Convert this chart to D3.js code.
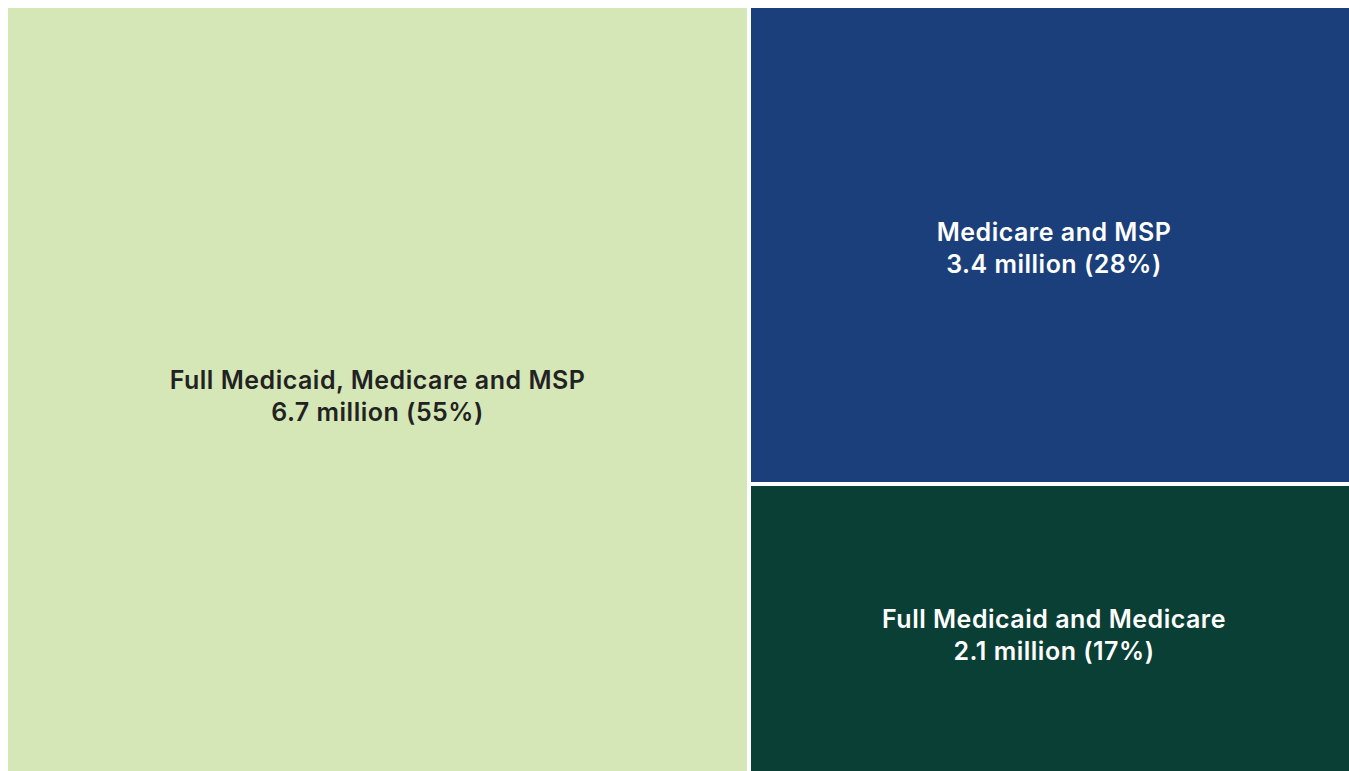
<!DOCTYPE html>
<html>
<head>
<meta charset="utf-8">
<script src="https://cdn.jsdelivr.net/npm/d3@7"></script>
<style>
  body { margin: 0; background: #fff; }
  svg { display: block; }
</style>
</head>
<body>
<div id="chart"></div>
<script>
// Data
const groups = ["Full Medicaid, Medicare and MSP", "Medicare and MSP", "Full Medicaid and Medicare"];
const millions = [6.7, 3.4, 2.1];
const shares = ["55%", "28%", "17%"];
const colors = ["#d5e6b7", "#1b3f7a", "#0a3f35"];
const textColors = ["#222222", "#ffffff", "#ffffff"];

const width = 1349;
const height = 771;

const svg = d3.select("#chart")
    .append("svg")
    .attr("width", width)
    .attr("height", height);

// Build hierarchy
const root = d3.hierarchy({
        children: groups.map((g, i) => ({ name: g, value: millions[i], i: i }))
    })
    .sum(d => d.value || 0);

// the treemap runs a little past the right and bottom edges
d3.treemap()
    .tile(d3.treemapBinary)
    .size([1349, 770])
    .paddingInner(4)
    .round(true)(root);

const cell = svg.selectAll("g.cell")
    .data(root.leaves())
    .join("g")
    .attr("class", "cell")
    .attr("transform", d => `translate(${d.x0 + 8}, ${d.y0 + 8})`);

cell.append("rect")
    .attr("width", d => d.x1 - d.x0)
    .attr("height", d => d.y1 - d.y0)
    .attr("fill", d => colors[d.data.i]);

const label = cell.append("text")
    .attr("text-anchor", "middle")
    .attr("font-family", "Inter, 'Open Sans', sans-serif")
    .attr("font-weight", 600)
    .attr("font-size", 25)
    .attr("letter-spacing", 0.5)
    .attr("fill", d => textColors[d.data.i]);

label.append("tspan")
    .attr("x", d => (d.x1 - d.x0) / 2)
    .attr("y", d => (d.y1 - d.y0) / 2 - 4)
    .text(d => d.data.name);

label.append("tspan")
    .attr("x", d => (d.x1 - d.x0) / 2)
    .attr("y", d => (d.y1 - d.y0) / 2 + 28)
    .text(d => `${d.data.value} million (${shares[d.data.i]})`);
</script>
</body>
</html>
